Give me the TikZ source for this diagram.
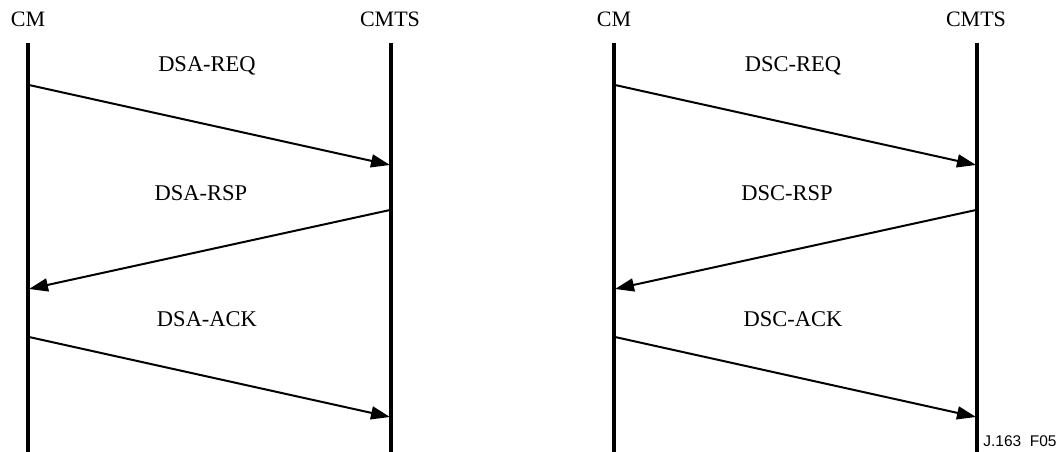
\documentclass[tikz,border=0pt]{standalone}
\usepackage{fontspec}
\setmainfont{Liberation Serif}
\newfontfamily\figfont{Liberation Sans}
\usetikzlibrary{arrows.meta}
\tikzset{
  lifeline/.style={line width=3.2pt},
  msg/.style={line width=2pt, -{Triangle[length=19pt,width=13pt]}},
  party/.style={font=\fontsize{22}{24}\selectfont, inner sep=0pt},
  msglabel/.style={font=\fontsize{22.5}{24}\selectfont, inner sep=0pt}
}
\begin{document}
\begin{tikzpicture}[x=1pt, y=-1pt]
  \useasboundingbox (0,0) rectangle (1063,452);
  \foreach \dx/\p in {0/DSA, 586/DSC} {
    % the two parties
    \node[party] (cm\p) at (28+\dx, 19) {CM};
    \node[party] (cmts\p) at (390+\dx, 19) {CMTS};
    \coordinate (cmtop\p) at (28+\dx, 43);
    \coordinate (cmbot\p) at (28+\dx, 452);
    \coordinate (tstop\p) at (391+\dx, 43);
    \coordinate (tsbot\p) at (391+\dx, 452);
    \draw[lifeline] (cmtop\p) -- (cmbot\p);
    \draw[lifeline] (tstop\p) -- (tsbot\p);
    % message end points
    \coordinate (req0\p) at (29+\dx, 85);
    \coordinate (req1\p) at (390+\dx, 165);
    \coordinate (rsp0\p) at (390+\dx, 210);
    \coordinate (rsp1\p) at (29+\dx, 289);
    \coordinate (ack0\p) at (29+\dx, 337);
    \coordinate (ack1\p) at (390+\dx, 417);
    \draw[msg] (req0\p) -- (req1\p);
    \draw[msg] (rsp0\p) -- (rsp1\p);
    \draw[msg] (ack0\p) -- (ack1\p);
    \node[msglabel] (lreq\p) at (207+\dx, 66) {\p-REQ};
    \node[msglabel] (lrsp\p) at (201+\dx, 193) {\p-RSP};
    \node[msglabel] (lack\p) at (207+\dx, 319) {\p-ACK};
  }
  \node[font=\figfont\fontsize{15.5}{17}\selectfont, inner sep=0pt] (figid) at (1020, 441) {J.163\ \ F05};
\end{tikzpicture}
\end{document}
